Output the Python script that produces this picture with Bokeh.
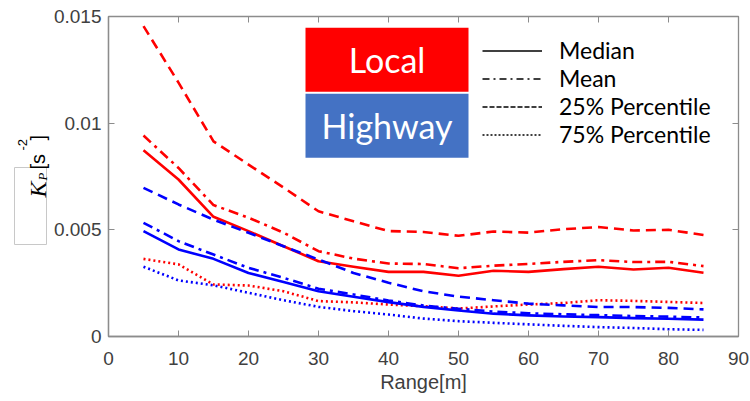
from bokeh.plotting import figure
from bokeh.layouts import row
from bokeh.models import (Range1d, LinearAxis, FixedTicker, CustomJSTickFormatter,
                          Label, BoxAnnotation, Legend, LegendItem, ColumnDataSource)
from bokeh.core.properties import value
from bokeh.embed import file_html
from bokeh.resources import INLINE

# ---------------- data ----------------
range_m = [5, 10, 15, 20, 25, 30, 35, 40, 45, 50, 55, 60, 65, 70, 75, 80, 85]

local_median = [0.00873, 0.00736, 0.00561, 0.00494, 0.00423, 0.00353, 0.00327, 0.00303, 0.00303,
                0.00285, 0.00308, 0.00303, 0.00316, 0.00327, 0.00314, 0.00322, 0.00299]
local_mean = [0.00942, 0.00790, 0.00616, 0.00557, 0.00487, 0.00400, 0.00365, 0.00342, 0.00340,
              0.00320, 0.00332, 0.00340, 0.00350, 0.00358, 0.00349, 0.00350, 0.00330]
local_p25 = [0.01455, 0.01190, 0.00915, 0.00806, 0.00698, 0.00587, 0.00540, 0.00494, 0.00490,
             0.00472, 0.00492, 0.00487, 0.00503, 0.00513, 0.00497, 0.00500, 0.00476]
local_p75 = [0.00364, 0.00338, 0.00244, 0.00239, 0.00212, 0.00166, 0.00160, 0.00150, 0.00142,
             0.00131, 0.00141, 0.00150, 0.00157, 0.00170, 0.00167, 0.00162, 0.00157]

hw_median = [0.00494, 0.00408, 0.00364, 0.00298, 0.00256, 0.00212, 0.00186, 0.00161, 0.00139,
             0.00122, 0.00107, 0.00099, 0.00094, 0.00091, 0.00086, 0.00083, 0.00079]
hw_mean = [0.00533, 0.00447, 0.00384, 0.00322, 0.00275, 0.00224, 0.00197, 0.00169, 0.00145,
           0.00130, 0.00117, 0.00109, 0.00104, 0.00100, 0.00096, 0.00093, 0.00089]
hw_p25 = [0.00697, 0.00619, 0.00548, 0.00486, 0.00423, 0.00361, 0.00298, 0.00252, 0.00212,
          0.00187, 0.00170, 0.00154, 0.00146, 0.00138, 0.00138, 0.00134, 0.00127]
hw_p75 = [0.00327, 0.00263, 0.00240, 0.00205, 0.00170, 0.00139, 0.00119, 0.00103, 0.00084,
          0.00072, 0.00064, 0.00057, 0.00050, 0.00044, 0.00040, 0.00034, 0.00031]

x_ticks = [0, 10, 20, 30, 40, 50, 60, 70, 80, 90]
y_ticks = [0, 0.005, 0.01, 0.015]

# ---------------- styles ----------------
RED = "#ff0000"
BLUE = "#0000ff"
GRAY = "#8c8c8c"
TXT = "#404040"
SANS = "Liberation Sans"
CAL = "Lato"

DASH_PLOT = {"median": "solid", "mean": "10 5 3 5", "p25": "10 6", "p75": "2 3"}
DASH_LEG = {"median": "solid", "mean": "7 4 2 4", "p25": "5 2", "p75": "2 2"}

LW = 50          # width of the strip carrying the y-axis title
H = 401
TOP, BOT = 16, 65   # borders shared by both frames (row aligns them)

# ---------------- left strip holding the y-axis label ----------------
pl = figure(width=LW, height=H, x_range=Range1d(0, LW), y_range=Range1d(BOT, H - TOP),
            output_backend="svg", toolbar_location=None,
            min_border_left=0, min_border_right=0, min_border_top=TOP, min_border_bottom=BOT,
            x_axis_location=None, y_axis_location=None)
pl.grid.visible = False
pl.outline_line_color = None
pl.quad(left=[14], right=[46], top=[H - 167], bottom=[H - 244], fill_color=None,
        line_color="#c8c8c8", line_width=1)
# (text, x, y measured from the top, font, style, size)
ylab_parts = [
    ("K", 37, 197, "Liberation Serif", "italic", "24px"),
    ("P", 42, 180, "Liberation Serif", "italic", "13px"),
    ("[s", 37.5, 169, SANS, "normal", "20px"),
    ("-2", 22, 150, SANS, "normal", "13px"),
    ("]", 37.5, 140, SANS, "normal", "20px"),
]
for t, xx, yy, fnt, sty, sz in ylab_parts:
    pl.text(x=[xx], y=[H - yy], text=[t], angle=1.5708, text_align="left",
            text_baseline="alphabetic", text_font=value(fnt), text_font_style=sty,
            text_font_size=sz, text_color="black")

# ---------------- main plot ----------------
p = figure(width=750 - LW, height=H, x_range=Range1d(0, 90), y_range=Range1d(0, 0.015),
           output_backend="svg", toolbar_location=None,
           min_border_left=106 - LW, min_border_right=12, min_border_top=TOP,
           min_border_bottom=BOT)
p.grid.visible = False
p.outline_line_color = GRAY
p.outline_line_width = 1.3
p.background_fill_color = "white"
p.border_fill_color = "white"

fmt = CustomJSTickFormatter(code="return tick.toString();")
for ax in (p.xaxis[0], p.yaxis[0]):
    ax.axis_line_color = GRAY
    ax.axis_line_width = 1.3
    ax.major_tick_line_color = GRAY
    ax.major_tick_in = 6
    ax.major_tick_out = 0
    ax.minor_tick_line_color = None
    ax.major_label_text_font = SANS
    ax.major_label_text_font_size = "19px"
    ax.major_label_text_color = TXT
    ax.formatter = fmt

p.xaxis[0].ticker = FixedTicker(ticks=x_ticks)
p.yaxis[0].ticker = FixedTicker(ticks=y_ticks)
p.xaxis[0].major_label_standoff = 15
p.yaxis[0].major_label_standoff = 7
p.xaxis[0].axis_label = "Range[m]"
p.xaxis[0].axis_label_text_font = SANS
p.xaxis[0].axis_label_text_font_size = "20px"
p.xaxis[0].axis_label_text_font_style = "normal"
p.xaxis[0].axis_label_text_color = TXT
p.xaxis[0].axis_label_standoff = 3

# box-style ticks on top and right
for place, ticks in (("above", x_ticks), ("right", y_ticks)):
    ax = LinearAxis(ticker=FixedTicker(ticks=ticks), axis_line_color=None,
                    major_tick_line_color=GRAY, major_tick_in=6, major_tick_out=0,
                    minor_tick_line_color=None, major_label_text_color=None,
                    major_label_text_font_size="1px", major_label_standoff=0)
    p.add_layout(ax, place)

# ---------------- lines ----------------
series = [
    (local_median, RED, "median"), (local_mean, RED, "mean"),
    (local_p25, RED, "p25"), (local_p75, RED, "p75"),
    (hw_median, BLUE, "median"), (hw_mean, BLUE, "mean"),
    (hw_p25, BLUE, "p25"), (hw_p75, BLUE, "p75"),
]
for ys, col, kind in series:
    p.line(range_m, ys, line_color=col, line_width=2.6, line_dash=DASH_PLOT[kind],
           line_join="round")

# ---------------- legend (line styles) ----------------
nan = float("nan")
items = []
for kind, lab in (("median", "Median"), ("mean", "Mean"),
                  ("p25", "25% Percentile"), ("p75", "75% Percentile")):
    src = ColumnDataSource(data=dict(x=[nan], y=[nan]))
    r = p.line("x", "y", source=src, line_color="black", line_width=1.5,
               line_dash=DASH_LEG[kind])
    items.append(LegendItem(label=lab, renderers=[r]))
leg = Legend(items=items, location=(374, 188), orientation="vertical", padding=0, margin=0,
             spacing=0, glyph_width=60, glyph_height=27, label_height=27, label_standoff=17,
             border_line_color=None, background_fill_alpha=0,
             label_text_font=CAL, label_text_font_size="23px", label_text_color="black")
p.add_layout(leg)

# ---------------- Local / Highway boxes ----------------
p.add_layout(BoxAnnotation(left=197, right=360, top=308.7, bottom=244.7,
                           left_units="screen", right_units="screen",
                           top_units="screen", bottom_units="screen",
                           fill_color="#ff0000", fill_alpha=1, line_color=None))
p.add_layout(BoxAnnotation(left=197, right=360, top=242.7, bottom=178.7,
                           left_units="screen", right_units="screen",
                           top_units="screen", bottom_units="screen",
                           fill_color="#4472c4", fill_alpha=1, line_color=None))
for txt, yy in (("Local", 276.7), ("Highway", 210.7)):
    p.add_layout(Label(x=278.5, y=yy, x_units="screen", y_units="screen", text=txt,
                       text_align="center", text_baseline="middle",
                       text_font=CAL, text_font_size="34px", text_color="white"))

layout = row(pl, p)
open("out.html", "w").write(file_html(layout, INLINE))
